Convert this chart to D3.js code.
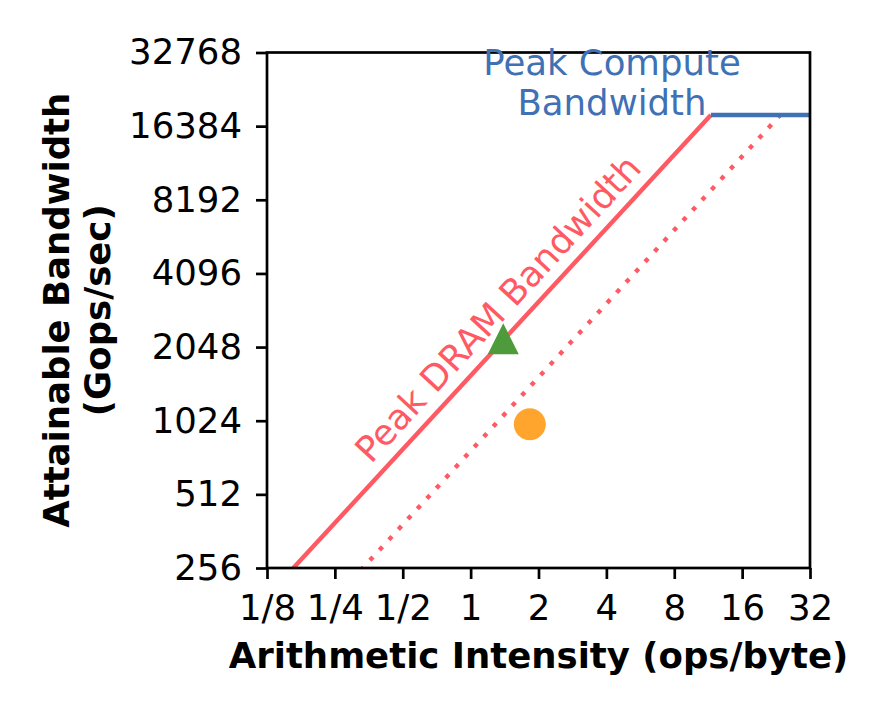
<!DOCTYPE html>
<html>
<head>
<meta charset="utf-8">
<script src="https://cdn.jsdelivr.net/npm/d3@7"></script>
<style>
  body { margin: 0; background: #fff; }
  svg { display: block; font-family: "DejaVu Sans", sans-serif; }
</style>
</head>
<body>
<script>
// Axis ticks
const intensityTicks = [1/8, 1/4, 1/2, 1, 2, 4, 8, 16, 32];
const intensityLabels = ["1/8", "1/4", "1/2", "1", "2", "4", "8", "16", "32"];
const bandwidthTicks = [256, 512, 1024, 2048, 4096, 8192, 16384, 32768];

// Roofline values
const peakCompute = 18200;          // Gops/sec
const roofNames = ["Peak DRAM Bandwidth", "second DRAM roof"];
const roofBandwidth = [1565, 770];  // GB/s

// Measured kernels
const pointIntensity = [1.395, 1.83];
const pointPerf = [2216, 991];

const W = 871, H = 718;
const plotL = 267, plotR = 810, plotT = 52.5, plotB = 568;

const red = "#ff5a64", blue = "#3f71b4";
const pointColors = ["#4e9b3b", "#ffa52d"];
const fontSize = "35.5px";

let x = d3.scaleLog().base(2).domain([1/8, 32]).range([plotL, plotR]);
let y = d3.scaleLog().base(2).domain([256, 32768]).range([plotB, plotT]);

let svg = d3.select("body").append("svg")
    .attr("width", W)
    .attr("height", H);

svg.append("clipPath").attr("id", "plot")
    .append("rect")
    .attr("x", plotL).attr("y", plotT)
    .attr("width", plotR - plotL).attr("height", plotB - plotT);

let line = d3.line().x(d => x(d[0])).y(d => y(d[1]));

let plot = svg.append("g").attr("clip-path", "url(#plot)");

// Sloped memory roofs, each ends where it meets the compute roof
roofBandwidth.forEach((bw, i) => {
    let ridge = peakCompute / bw;
    plot.append("path")
        .attr("d", line([[1/16, bw / 16], [ridge, peakCompute]]))
        .attr("fill", "none")
        .attr("stroke", red)
        .attr("stroke-width", 4.4)
        .attr("stroke-dasharray", i === 1 ? "4.5 9.5" : null);
});

// Flat compute roof
plot.append("path")
    .attr("d", line([[peakCompute / roofBandwidth[0], peakCompute], [32, peakCompute]]))
    .attr("fill", "none")
    .attr("stroke", blue)
    .attr("stroke-width", 4.4);

// Markers: triangle then circle
let tri = d3.line()([[0, -15.5], [-15.5, 15.5], [15.5, 15.5]]) + "Z";
plot.append("path")
    .attr("d", tri)
    .attr("transform", `translate(${x(pointIntensity[0])},${y(pointPerf[0])})`)
    .attr("fill", pointColors[0]);
plot.append("circle")
    .attr("cx", x(pointIntensity[1]))
    .attr("cy", y(pointPerf[1]))
    .attr("r", 16)
    .attr("fill", pointColors[1]);

// Frame
svg.append("rect")
    .attr("x", plotL).attr("y", plotT)
    .attr("width", plotR - plotL).attr("height", plotB - plotT)
    .attr("fill", "none")
    .attr("stroke", "#000")
    .attr("stroke-width", 2.7);

// Axes
let xAxis = svg.append("g")
    .attr("transform", `translate(0,${plotB})`)
    .call(d3.axisBottom(x)
        .tickValues(intensityTicks)
        .tickFormat((d, i) => intensityLabels[i])
        .tickSize(11).tickSizeOuter(0).tickPadding(15));

let yAxis = svg.append("g")
    .attr("transform", `translate(${plotL},0)`)
    .call(d3.axisLeft(y)
        .tickValues(bandwidthTicks)
        .tickFormat(d3.format("d"))
        .tickSize(11).tickSizeOuter(0).tickPadding(14));

[xAxis, yAxis].forEach(a => {
    a.select(".domain").remove();
    a.selectAll(".tick line").attr("stroke", "#000").attr("stroke-width", 2.7);
    a.selectAll(".tick text")
        .attr("fill", "#000")
        .style("font-family", "DejaVu Sans")
        .style("font-size", fontSize);
});
xAxis.selectAll(".tick text").attr("dy", null).attr("y", 52);

// Axis titles
svg.append("text")
    .attr("x", (plotL + plotR) / 2)
    .attr("y", 668)
    .attr("text-anchor", "middle")
    .style("font-size", fontSize)
    .style("font-weight", "bold")
    .text("Arithmetic Intensity (ops/byte)");

let yTitle = svg.append("g")
    .attr("transform", `translate(0,${(plotT + plotB) / 2}) rotate(-90)`);
yTitle.append("text")
    .attr("y", 69)
    .attr("text-anchor", "middle")
    .style("font-size", fontSize)
    .style("font-weight", "bold")
    .text("Attainable Bandwidth");
yTitle.append("text")
    .attr("y", 110)
    .attr("text-anchor", "middle")
    .style("font-size", fontSize)
    .style("font-weight", "bold")
    .text("(Gops/sec)");

// Roof labels
let blueLabel = svg.append("text")
    .attr("text-anchor", "middle")
    .attr("fill", blue)
    .style("font-size", fontSize);
blueLabel.append("tspan").attr("x", 612).attr("y", 75).text("Peak Compute");
blueLabel.append("tspan").attr("x", 612).attr("y", 115).text("Bandwidth");

let bw0 = roofBandwidth[0];
let labelAt = 1.6;
let angle = Math.atan2(y(bw0 * 2) - y(bw0), x(2) - x(1)) * 180 / Math.PI;
svg.append("text")
    .attr("transform", `translate(${x(labelAt)},${y(bw0 * labelAt)}) rotate(${angle})`)
    .attr("y", -13)
    .attr("text-anchor", "middle")
    .attr("fill", red)
    .style("font-size", fontSize)
    .text(roofNames[0]);
</script>
</body>
</html>
